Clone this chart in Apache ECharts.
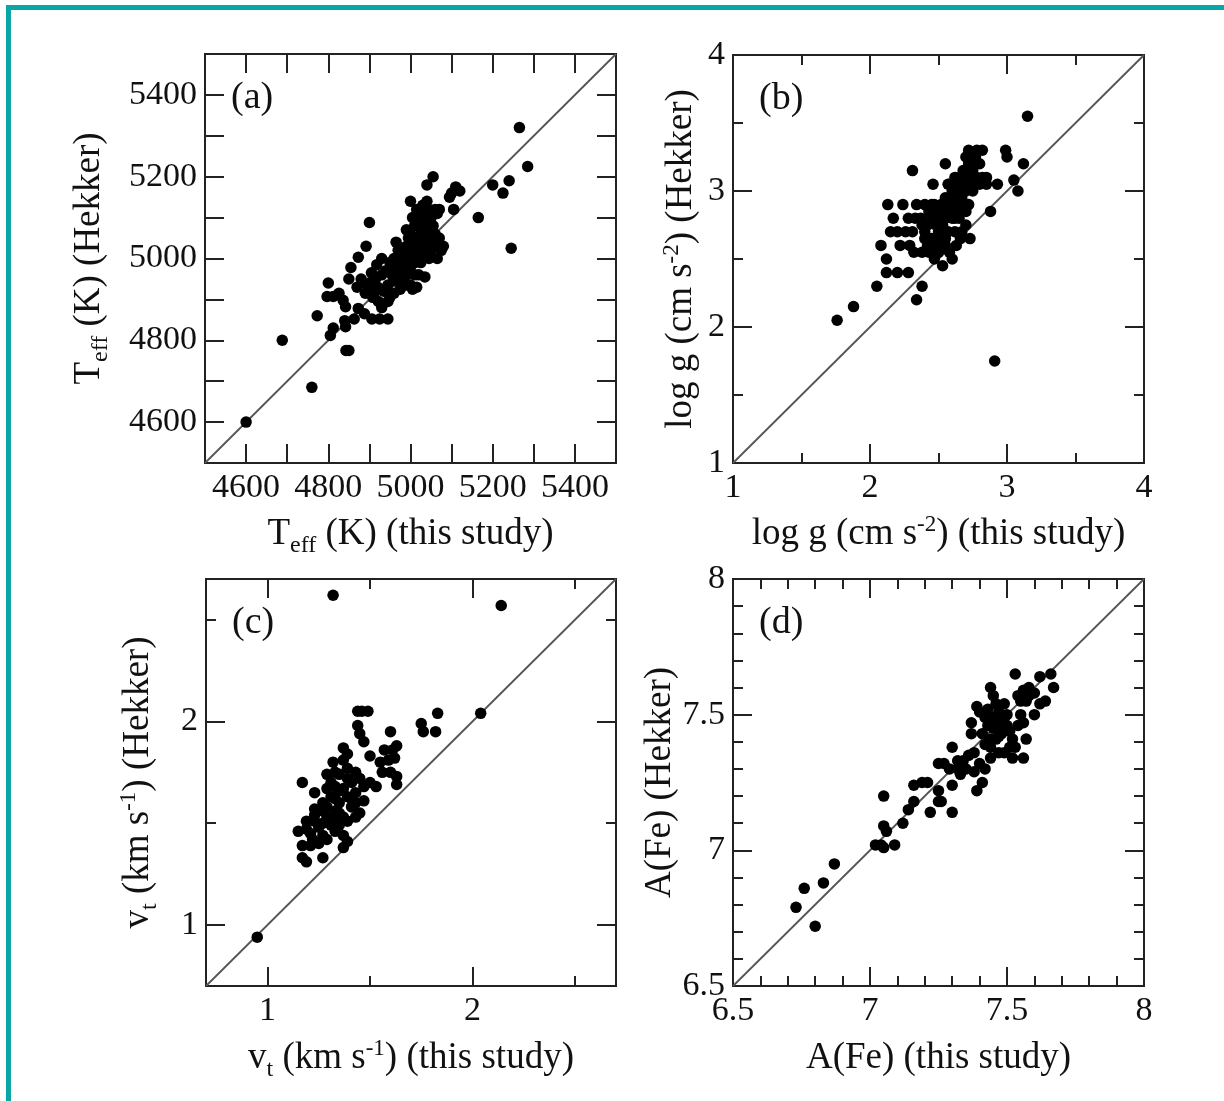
<!DOCTYPE html>
<html><head><meta charset="utf-8">
<script src="https://cdn.jsdelivr.net/npm/echarts@6/dist/echarts.min.js"></script>
<style>html,body{margin:0;padding:0;background:#fff}#c{width:1224px;height:1101px}</style>
</head><body><div id="c"></div>
<script>
// ---------- DATA ----------
// (a) Teff: [this study, Hekker]
const teffPairs = [
[4600,4600],[4688,4800],[4760,4685],[4773,4860],[4800,4940],[4805,4812],[4812,4830],[4797,4907],[4812,4907],[4826,4915],
[4836,4898],[4842,4882],[4843,4775],[4850,4775],[4842,4833],[4840,4848],[4863,4852],[4850,4950],[4855,4978],[4873,5003],
[4892,5030],[4900,5088],[4873,4878],[4888,4865],[4906,4852],[4925,4852],[4945,4852],
[4880,4950],[4895,4935],[4905,4965],[4915,4950],[4890,4915],[4908,4905],[4922,4895],[4930,4880],[4935,4920],[4945,4935],
[4918,4985],[4930,5000],[4940,4970],[4955,4960],[4960,5000],[4965,5040],[4970,5020],[4975,4985],[4980,4990],[4985,5010],
[4990,5030],[4970,4950],[4985,4965],[4995,5000],[5000,4980],[5005,5020],[5010,5040],[4995,5050],[5010,4960],[5000,4935],
[4990,4935],[5015,5000],[5020,5025],[5025,5060],[5030,5090],[5020,5100],[5035,5110],[5040,5140],[5045,5120],[5050,5100],
[5060,5120],[5055,5080],[5045,5060],[5040,5040],[5030,5010],[5025,4990],[5020,4960],[5035,4955],[5015,4930],[5005,4925],
[4985,4945],[4975,4925],[5050,5040],[5060,5030],[5070,5050],[5075,5020],[5065,5000],[5080,5030],[5045,5000],[5040,5180],
[5055,5200],[5065,5110],[5070,5120],[5000,5140],[5005,5100],[4990,5070],[5010,5080],[4920,4930],[4950,4905],[4960,4945],
[4950,4990],[4965,4975],[4980,5000],[4995,5020],[5010,5010],[5020,5050],[5030,5070],[5040,5090],[5050,5110],[5015,5120],
[5030,5130],[4960,4915],[4945,4895],[4930,4960],[4915,4920],[4900,4940],[4870,4930],[4990,4960],[5000,5060],[5060,5060],
[5050,5020],[5035,5030],[5010,4990],[4980,4940],
[5095,5150],[5100,5160],[5110,5175],[5105,5120],[5120,5165],[5165,5100],[5200,5180],[5225,5160],[5240,5190],[5245,5025],
[5265,5320],[5285,5225]
];
// (b) log g: [this study, Hekker]
const loggPairs = [
[1.76,2.05],[1.88,2.15],[2.05,2.30],[2.08,2.60],[2.12,2.50],[2.12,2.40],[2.20,2.40],[2.28,2.40],[2.13,2.90],[2.24,2.90],
[2.17,2.80],[2.15,2.70],[2.20,2.70],[2.26,2.70],[2.31,2.70],[2.22,2.60],[2.29,2.60],[2.31,3.15],[2.28,2.80],[2.33,2.80],
[2.37,2.80],[2.34,2.90],[2.40,2.90],[2.38,2.30],[2.34,2.20],[2.32,2.55],[2.38,2.55],[2.43,2.55],[2.47,2.50],[2.53,2.45],
[2.60,2.50],[2.55,3.20],[2.46,3.05],[2.72,3.30],[2.77,3.25],[2.82,3.30],[2.73,2.65],[2.67,2.70],[2.88,2.85],[2.91,1.75],
[2.85,3.05],[2.93,3.05],[2.99,3.30],[3.00,3.25],[3.05,3.08],[3.08,3.00],[3.12,3.20],[3.15,3.55],
[2.40,2.70],[2.42,2.75],[2.45,2.80],[2.45,2.65],[2.48,2.60],[2.50,2.70],[2.50,2.85],[2.52,2.90],[2.53,2.75],[2.55,2.80],
[2.55,2.60],[2.57,2.70],[2.58,2.95],[2.60,3.00],[2.60,2.85],[2.62,2.90],[2.63,3.05],[2.65,3.10],[2.65,2.80],[2.67,2.95],
[2.68,3.00],[2.70,3.10],[2.70,2.85],[2.72,2.90],[2.74,3.05],[2.75,3.15],[2.75,3.00],[2.78,3.10],[2.80,3.20],[2.80,3.05],
[2.82,3.10],[2.85,3.10],[2.62,2.70],[2.58,2.55],[2.50,2.55],[2.47,2.90],[2.43,2.85],[2.57,3.05],[2.62,3.10],[2.66,2.65],
[2.70,2.75],[2.63,2.60],[2.52,2.65],[2.48,2.75],[2.40,2.65],[2.38,2.75],[2.58,2.85],[2.68,3.15],[2.72,3.20],[2.70,3.25],
[2.78,3.30],[2.60,2.95],[2.55,2.95],
[2.55,2.90],[2.58,3.05],[2.62,3.00],[2.65,2.95],[2.68,2.90],[2.70,3.00],[2.72,3.05],[2.66,3.05],[2.60,2.80],[2.52,2.80],
[2.48,2.85],[2.45,2.90],[2.56,2.70],[2.62,2.80],[2.68,3.10],[2.76,3.10],[2.64,2.85],[2.50,2.75],[2.42,2.60],[2.55,2.65]
];
// (c) vt: [this study, Hekker]
const vtPairs = [
[0.95,0.94],[1.32,2.62],[2.14,2.57],[2.04,2.04],[1.83,2.04],[1.82,1.95],[1.75,1.99],[1.76,1.95],[1.60,1.95],
[1.44,2.05],[1.46,2.05],[1.49,2.05],[1.44,1.98],[1.45,1.94],[1.47,1.90],[1.37,1.87],[1.39,1.84],[1.50,1.83],[1.57,1.86],
[1.61,1.86],[1.63,1.88],[1.55,1.80],[1.59,1.81],[1.62,1.82],[1.56,1.75],[1.60,1.75],[1.63,1.73],[1.63,1.69],[1.32,1.80],
[1.33,1.75],[1.17,1.70],[1.23,1.65],[1.29,1.67],[1.35,1.74],[1.39,1.77],[1.37,1.67],[1.41,1.70],[1.43,1.65],[1.47,1.68],
[1.50,1.70],[1.53,1.68],[1.47,1.61],[1.45,1.55],[1.15,1.46],[1.19,1.47],[1.23,1.54],[1.29,1.53],[1.33,1.56],[1.37,1.53],
[1.22,1.42],[1.27,1.44],[1.33,1.46],[1.37,1.44],[1.17,1.39],[1.21,1.39],[1.17,1.33],[1.19,1.31],[1.27,1.33],[1.37,1.38],
[1.39,1.41],[1.25,1.40],[1.31,1.63],[1.35,1.60],[1.39,1.63],[1.41,1.58],[1.27,1.60],[1.23,1.51],[1.31,1.49],[1.35,1.49],
[1.39,1.51],[1.43,1.53],[1.29,1.74],[1.37,1.81],[1.43,1.75],[1.33,1.68],[1.27,1.56],[1.19,1.51],
[1.25,1.48],[1.29,1.58],[1.33,1.62],[1.35,1.55],[1.31,1.70],[1.39,1.72],[1.41,1.62],[1.45,1.72],[1.21,1.45],[1.29,1.42],
[1.35,1.66],[1.27,1.50],[1.33,1.52],[1.43,1.60],[1.23,1.57]
];
// (d) A(Fe): [this study, Hekker]
const fePairs = [
[6.73,6.79],[6.76,6.86],[6.80,6.72],[6.83,6.88],[6.87,6.95],[7.02,7.02],[7.04,7.02],[7.05,7.01],[7.09,7.02],[7.05,7.20],
[7.05,7.09],[7.06,7.07],[7.12,7.10],[7.14,7.15],[7.16,7.18],[7.16,7.24],[7.19,7.25],[7.21,7.25],[7.22,7.14],[7.25,7.18],
[7.25,7.22],[7.26,7.18],[7.25,7.32],[7.27,7.32],[7.29,7.30],[7.30,7.38],[7.30,7.24],[7.30,7.14],[7.32,7.30],[7.34,7.33],
[7.36,7.35],[7.33,7.28],[7.39,7.22],[7.41,7.25],[7.38,7.29],[7.40,7.32],[7.42,7.30],[7.44,7.34],[7.39,7.53],[7.37,7.47],
[7.37,7.43],[7.41,7.43],[7.43,7.46],[7.45,7.49],[7.47,7.51],[7.49,7.54],[7.44,7.60],[7.45,7.57],[7.42,7.39],[7.44,7.41],
[7.46,7.41],[7.48,7.43],[7.50,7.46],[7.52,7.41],[7.54,7.46],[7.53,7.38],[7.47,7.36],[7.49,7.36],[7.51,7.38],[7.53,7.65],
[7.52,7.34],[7.56,7.34],[7.57,7.41],[7.54,7.57],[7.56,7.59],[7.58,7.60],[7.60,7.58],[7.57,7.55],[7.60,7.50],[7.62,7.54],
[7.62,7.64],[7.66,7.65],[7.64,7.55],[7.67,7.60],[7.56,7.47],[7.55,7.50],[7.47,7.46],[7.49,7.49],[7.42,7.49],[7.40,7.51],
[7.45,7.45],[7.47,7.42],[7.50,7.50],[7.43,7.52],[7.46,7.54],[7.48,7.48],[7.51,7.44],[7.44,7.38],[7.35,7.30],[7.32,7.33],
[7.38,7.36],[7.58,7.57],[7.55,7.55]
];

// ranges and ticks
const teffRange = [4500, 5500];
const teffTicks = [4600,4700,4800,4900,5000,5100,5200,5300,5400];
const teffMinor = [];
const teffLabels = [4600,4800,5000,5200,5400];

const loggRange = [1, 4];
const loggTicks = [1,2,3,4];
const loggMinor = [1.5,2.5,3.5];
const loggLabels = [1,2,3,4];

const vtRange = [0.7, 2.7];
const vtTicks = [1,2];
const vtMinor = [1.5,2.5];
const vtLabels = [1,2];

const feRange = [6.5, 8];
const feTicks = [6.5,7,7.5,8];
const feMinor = [6.6,6.7,6.8,6.9,7.1,7.2,7.3,7.4,7.6,7.7,7.8,7.9];
const feLabels = [6.5,7,7.5,8];

// ---------- CHART ----------
const FONT = 'Liberation Serif';
const INK = '#111';
const LH = 41;
const rich = {
  sub: {fontFamily: FONT, fontSize: 24, color: INK, lineHeight: LH, padding: [22, 0, 0, 0]},
  sup: {fontFamily: FONT, fontSize: 23, color: INK, lineHeight: LH, padding: [0, 0, 20, 0]},
  n: {fontFamily: FONT, fontSize: 37, color: INK, lineHeight: LH}
};

const panels = [
  {grid: {left: 205, top: 54, width: 411, height: 409}, range: teffRange, ticks: teffTicks, minor: teffMinor, labels: teffLabels, data: teffPairs,
   xName: '{n|T}{sub|eff}{n| (K) (this study)}', yName: '{n|T}{sub|eff}{n| (K) (Hekker)}', xGap: 51, yGap: 95, tag: '(a)'},
  {grid: {left: 733, top: 55, width: 411, height: 408}, range: loggRange, ticks: loggTicks, minor: loggMinor, labels: loggLabels, data: loggPairs,
   xName: '{n|log g (cm s}{sup|-2}{n|) (this study)}', yName: '{n|log g (cm s}{sup|-2}{n|) (Hekker)}', xGap: 51, yGap: 31, tag: '(b)'},
  {grid: {left: 206, top: 579, width: 410, height: 407}, range: vtRange, ticks: vtTicks, minor: vtMinor, labels: vtLabels, data: vtPairs,
   xName: '{n|v}{sub|t}{n| (km s}{sup|-1}{n|) (this study)}', yName: '{n|v}{sub|t}{n| (km s}{sup|-1}{n|) (Hekker)}', xGap: 52, yGap: 47, tag: '(c)'},
  {grid: {left: 733, top: 579, width: 411, height: 407}, range: feRange, ticks: feTicks, minor: feMinor, labels: feLabels, data: fePairs,
   xName: '{n|A(Fe) (this study)}', yName: '{n|A(Fe) (Hekker)}', xGap: 52, yGap: 47, tag: '(d)'}
];

const grids = [], xAxes = [], yAxes = [], series = [], graphics = [];
const MAJ = 19, MIN = 10;
const labelStyle = {fontFamily: FONT, fontSize: 34, color: INK};

function axisBase(gi, range, pos) {
  return {type: 'value', gridIndex: gi, position: pos, min: range[0], max: range[1],
    axisLine: {show: false}, splitLine: {show: false}, minorTick: {show: false}};
}

panels.forEach((p, gi) => {
  grids.push(Object.assign({show: true, borderColor: '#222', borderWidth: 2, backgroundColor: 'transparent'}, p.grid));
  ['x', 'y'].forEach(dim => {
    const arr = dim === 'x' ? xAxes : yAxes;
    const sides = dim === 'x' ? ['bottom', 'top'] : ['left', 'right'];
    let mainIndex = -1;
    sides.forEach((side, si) => {
      const ax = axisBase(gi, p.range, side);
      ax.axisTick = {show: true, inside: true, length: MAJ, lineStyle: {color: '#222', width: 2}, customValues: p.ticks};
      if (si === 0) {
        ax.axisLabel = {show: true, customValues: p.labels, margin: 8, ...labelStyle,
          formatter: v => String(v), showMinLabel: true, showMaxLabel: true, hideOverlap: false};
        ax.name = dim === 'x' ? p.xName : p.yName;
        ax.nameLocation = 'middle';
        ax.nameGap = dim === 'x' ? p.xGap : p.yGap;
        ax.nameTextStyle = {rich: rich, fontFamily: FONT, fontSize: 37, color: INK};
        mainIndex = arr.length;
      } else {
        ax.axisLabel = {show: false};
      }
      arr.push(ax);
      if (p.minor.length) {
        const mx = axisBase(gi, p.range, side);
        mx.axisTick = {show: true, inside: true, length: MIN, lineStyle: {color: '#222', width: 2}, customValues: p.minor};
        mx.axisLabel = {show: false};
        arr.push(mx);
      }
    });
    p[dim + 'Idx'] = mainIndex;
  });
  // diagonal one-to-one line from the axis range
  series.push({type: 'line', xAxisIndex: p.xIdx, yAxisIndex: p.yIdx, data: [[p.range[0], p.range[0]], [p.range[1], p.range[1]]],
    symbol: 'none', silent: true, lineStyle: {color: '#555', width: 1.8}, z: 1, animation: false});
  series.push({type: 'scatter', xAxisIndex: p.xIdx, yAxisIndex: p.yIdx, data: p.data, symbol: 'circle', symbolSize: 11.5,
    itemStyle: {color: '#000', opacity: 1}, z: 3, animation: false});
  graphics.push({type: 'text', left: p.grid.left + 26, top: p.grid.top + 25,
    style: {text: p.tag, fontFamily: FONT, fontSize: 38, fill: INK}});
});

// teal frame (top and left bars)
graphics.push({type: 'rect', left: 6, top: 5, shape: {width: 1218, height: 5}, style: {fill: '#0aa6a6'}});
graphics.push({type: 'rect', left: 6, top: 5, shape: {width: 5, height: 1096}, style: {fill: '#0aa6a6'}});

const chart = echarts.init(document.getElementById('c'), null, {renderer: 'canvas'});
chart.setOption({
  backgroundColor: '#fff',
  animation: false,
  grid: grids, xAxis: xAxes, yAxis: yAxes, series: series, graphic: graphics
});
</script></body></html>
